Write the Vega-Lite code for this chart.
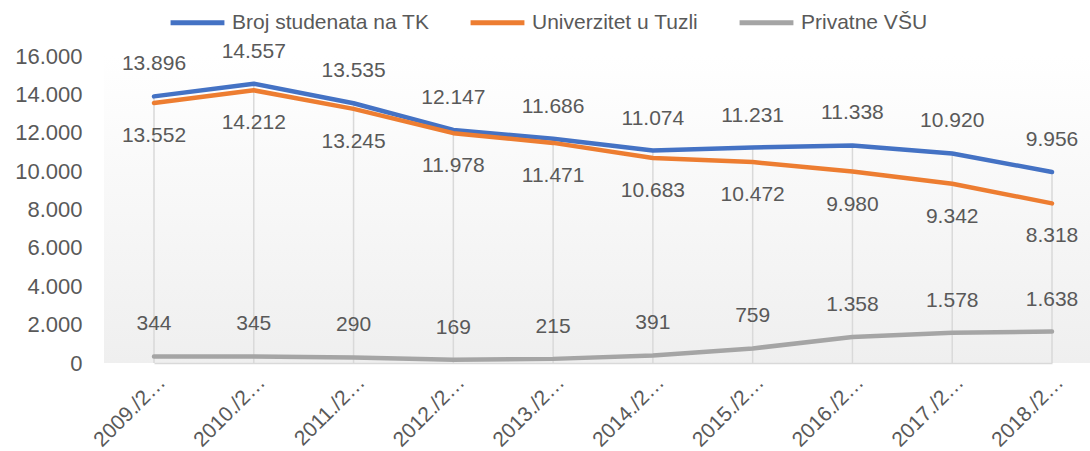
{
  "$schema": "https://vega.github.io/schema/vega-lite/v6.json",
  "autosize": {"type": "none"},
  "width": 986,
  "height": 307,
  "padding": {"left": 104, "top": 56, "right": 0, "bottom": 88},
  "background": "white",
  "config": {
    "locale": {"number": {"decimal": ",", "thousands": ".", "grouping": [3], "currency": ["", ""]}},
    "font": "Liberation Sans",
    "view": {"stroke": null, "fill": {"gradient": "linear", "x1": 0, "y1": 0, "x2": 0, "y2": 1, "stops": [{"offset": 0, "color": "#ffffff"}, {"offset": 1, "color": "#efefef"}]}},
    "text": {"font": "Liberation Sans", "fontSize": 21, "color": "#595959"}
  },
  "data": {
    "values": [
      {"godina": "2009./2010.", "serija": "Broj studenata na TK", "vrijednost": 13896},
      {"godina": "2010./2011.", "serija": "Broj studenata na TK", "vrijednost": 14557},
      {"godina": "2011./2012.", "serija": "Broj studenata na TK", "vrijednost": 13535},
      {"godina": "2012./2013.", "serija": "Broj studenata na TK", "vrijednost": 12147},
      {"godina": "2013./2014.", "serija": "Broj studenata na TK", "vrijednost": 11686},
      {"godina": "2014./2015.", "serija": "Broj studenata na TK", "vrijednost": 11074},
      {"godina": "2015./2016.", "serija": "Broj studenata na TK", "vrijednost": 11231},
      {"godina": "2016./2017.", "serija": "Broj studenata na TK", "vrijednost": 11338},
      {"godina": "2017./2018.", "serija": "Broj studenata na TK", "vrijednost": 10920},
      {"godina": "2018./2019.", "serija": "Broj studenata na TK", "vrijednost": 9956},
      {"godina": "2009./2010.", "serija": "Univerzitet u Tuzli", "vrijednost": 13552},
      {"godina": "2010./2011.", "serija": "Univerzitet u Tuzli", "vrijednost": 14212},
      {"godina": "2011./2012.", "serija": "Univerzitet u Tuzli", "vrijednost": 13245},
      {"godina": "2012./2013.", "serija": "Univerzitet u Tuzli", "vrijednost": 11978},
      {"godina": "2013./2014.", "serija": "Univerzitet u Tuzli", "vrijednost": 11471},
      {"godina": "2014./2015.", "serija": "Univerzitet u Tuzli", "vrijednost": 10683},
      {"godina": "2015./2016.", "serija": "Univerzitet u Tuzli", "vrijednost": 10472},
      {"godina": "2016./2017.", "serija": "Univerzitet u Tuzli", "vrijednost": 9980},
      {"godina": "2017./2018.", "serija": "Univerzitet u Tuzli", "vrijednost": 9342},
      {"godina": "2018./2019.", "serija": "Univerzitet u Tuzli", "vrijednost": 8318},
      {"godina": "2009./2010.", "serija": "Privatne VŠU", "vrijednost": 344},
      {"godina": "2010./2011.", "serija": "Privatne VŠU", "vrijednost": 345},
      {"godina": "2011./2012.", "serija": "Privatne VŠU", "vrijednost": 290},
      {"godina": "2012./2013.", "serija": "Privatne VŠU", "vrijednost": 169},
      {"godina": "2013./2014.", "serija": "Privatne VŠU", "vrijednost": 215},
      {"godina": "2014./2015.", "serija": "Privatne VŠU", "vrijednost": 391},
      {"godina": "2015./2016.", "serija": "Privatne VŠU", "vrijednost": 759},
      {"godina": "2016./2017.", "serija": "Privatne VŠU", "vrijednost": 1358},
      {"godina": "2017./2018.", "serija": "Privatne VŠU", "vrijednost": 1578},
      {"godina": "2018./2019.", "serija": "Privatne VŠU", "vrijednost": 1638}
    ]
  },
  "encoding": {
    "x": {
      "field": "godina", "type": "nominal", "sort": null,
      "scale": {"type": "point", "range": [50, 948], "padding": 0},
      "axis": {
        "title": null, "labelAngle": -45, "labelFontSize": 21, "labelColor": "#595959",
        "labelLimit": 96, "ticks": false, "domainColor": "#d9d9d9", "domainWidth": 1.5,
        "labelPadding": 8, "grid": false
      }
    },
    "y": {
      "field": "vrijednost", "type": "quantitative",
      "scale": {"domain": [0, 16000], "nice": false},
      "axis": {
        "title": null, "values": [0, 2000, 4000, 6000, 8000, 10000, 12000, 14000, 16000],
        "format": ",d", "labelFontSize": 22, "labelColor": "#595959", "domain": false,
        "ticks": false, "grid": false, "labelPadding": 22
      }
    }
  },
  "layer": [
    {
      "transform": [{"filter": "datum.serija === 'Broj studenata na TK'"}],
      "mark": {"type": "rule", "color": "#d9d9d9", "strokeWidth": 1.5},
      "encoding": {"y2": {"datum": 0}}
    },
    {
      "mark": {"type": "line", "strokeWidth": 4.5, "strokeCap": "round", "strokeJoin": "round"},
      "encoding": {
        "color": {
          "field": "serija", "type": "nominal",
          "scale": {"domain": ["Broj studenata na TK", "Univerzitet u Tuzli", "Privatne VŠU"], "range": ["#4472C4", "#ED7D31", "#A5A5A5"]},
          "legend": {
            "title": null, "orient": "none", "legendX": 64, "legendY": -63, "direction": "horizontal", "symbolType": "stroke",
            "symbolSize": 2900, "symbolStrokeWidth": 5, "labelFontSize": 21, "labelColor": "#595959",
            "columnPadding": 30, "labelOffset": 5, "labelLimit": 300
          }
        }
      }
    },
    {
      "transform": [{"filter": "datum.serija !== 'Univerzitet u Tuzli'"}],
      "mark": {"type": "text", "dy": -32},
      "encoding": {"text": {"field": "vrijednost", "type": "quantitative", "format": ",d"}}
    },
    {
      "transform": [{"filter": "datum.serija === 'Univerzitet u Tuzli'"}],
      "mark": {"type": "text", "dy": 33},
      "encoding": {"text": {"field": "vrijednost", "type": "quantitative", "format": ",d"}}
    }
  ]
}
